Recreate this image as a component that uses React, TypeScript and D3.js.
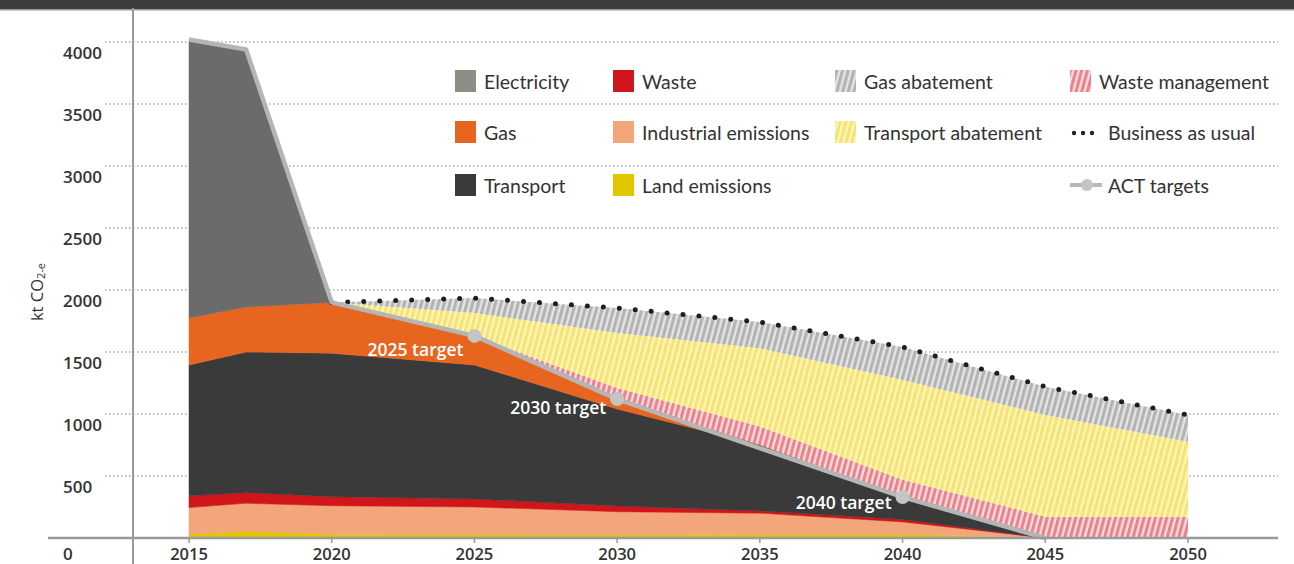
import React from "react";
import * as d3 from "d3";

const years = [2015, 2017, 2020, 2025, 2030, 2035, 2040, 2045, 2050];
const land = [30, 55, 30, 27, 25, 28, 30, 0, 0];
const industrial = [215, 225, 230, 223, 187, 172, 100, 0, 0];
const waste = [95, 85, 73, 65, 46, 18, 20, 0, 0];
const transport = [1055, 1135, 1157, 1080, 782, 532, 180, 0, 0];
const gas = [380, 363, 410, 235, 80, 0, 0, 0, 0];
const electricity = [2245, 2077, 0, 0, 0, 0, 0, 0, 0];
const wasteManagement = [0, 0, 0, 0, 90, 150, 140, 172, 172];
const transportAbatement = [0, 0, 0, 185, 443, 630, 804, 820, 605];
const gasAbatement = [0, 0, 0, 120, 202, 212, 266, 228, 215];

const actYears = [2015, 2017, 2020, 2025, 2030, 2040, 2045];
const actValues = [4020, 3940, 1900, 1630, 1120, 330, 0];
const targetYears = [2025, 2030, 2040];
const targetValues = [1630, 1120, 330];
const targetLabels = ["2025 target", "2030 target", "2040 target"];
const targetLabelDy = [13, 8, 5];

const yTicks = [0, 500, 1000, 1500, 2000, 2500, 3000, 3500, 4000];
const xTicks = [2015, 2020, 2025, 2030, 2035, 2040, 2045, 2050];

const seriesKeys = [
  "land",
  "industrial",
  "waste",
  "transport",
  "gas",
  "electricity",
  "wasteManagement",
  "transportAbatement",
  "gasAbatement",
];
const seriesValues: Record<string, number[]> = {
  land,
  industrial,
  waste,
  transport,
  gas,
  electricity,
  wasteManagement,
  transportAbatement,
  gasAbatement,
};
const hatched = new Set(["wasteManagement", "transportAbatement", "gasAbatement"]);

const fills: Record<string, string> = {
  land: "#e2c600",
  industrial: "#f3a679",
  waste: "#d0161b",
  transport: "#3a3a3a",
  gas: "#e8651f",
  electricity: "#6b6b6b",
  wasteManagement: "url(#hatch-pink)",
  transportAbatement: "url(#hatch-yellow)",
  gasAbatement: "url(#hatch-grey)",
};

const legendRows = [
  [
    { label: "Electricity", kind: "box", fill: "#8d8d86" },
    { label: "Waste", kind: "box", fill: "#d0161b" },
    { label: "Gas abatement", kind: "box", fill: "url(#hatch-grey)" },
    { label: "Waste management", kind: "box", fill: "url(#hatch-pink)" },
  ],
  [
    { label: "Gas", kind: "box", fill: "#e8651f" },
    { label: "Industrial emissions", kind: "box", fill: "#f3a679" },
    { label: "Transport abatement", kind: "box", fill: "url(#hatch-yellow)" },
    { label: "Business as usual", kind: "dots", fill: "#222" },
  ],
  [
    { label: "Transport", kind: "box", fill: "#3a3a3a" },
    { label: "Land emissions", kind: "box", fill: "#e2c600" },
    null,
    { label: "ACT targets", kind: "act", fill: "#b8b8b8" },
  ],
];
const legendColX = [455, 613, 835, 1070];
const legendRowY = [81, 132, 185];

export default function App() {
  const W = 1294;
  const H = 564;
  const x = d3.scaleLinear().domain([2015, 2050]).range([189, 1188]);
  const y = d3.scaleLinear().domain([0, 4000]).range([538, 42]);

  const table = years.map((yr, i) => {
    const row: Record<string, number> = { year: yr };
    seriesKeys.forEach((k) => (row[k] = seriesValues[k][i]));
    return row;
  });
  const stacked = d3.stack<Record<string, number>>().keys(seriesKeys)(table);

  const area = d3
    .area<d3.SeriesPoint<Record<string, number>>>()
    .x((d) => x(d.data.year))
    .y0((d) => y(d[0]))
    .y1((d) => y(d[1]))
    .curve(d3.curveLinear);
  const hatchArea = d3
    .area<d3.SeriesPoint<Record<string, number>>>()
    .defined((d) => d.data.year >= 2020)
    .x((d) => x(d.data.year))
    .y0((d) => y(d[0]))
    .y1((d) => y(d[1]))
    .curve(d3.curveLinear);

  const top = stacked[stacked.length - 1];
  const bauLine = d3
    .line<d3.SeriesPoint<Record<string, number>>>()
    .defined((d) => d.data.year >= 2020)
    .x((d) => x(d.data.year))
    .y((d) => y(d[1]));

  const actLine = d3
    .line<number>()
    .x((_, i) => x(actYears[i]))
    .y((v) => y(v));

  const tickFont = "'Open Sans', 'DejaVu Sans', sans-serif";
  const legendFont = "Lato, 'Open Sans', sans-serif";

  return (
    <svg
      width={W}
      height={H}
      style={{ position: "absolute", left: 0, top: 0, background: "#fff" }}
    >
      <defs>
        <pattern
          id="hatch-grey"
          width="5.5"
          height="10"
          patternUnits="userSpaceOnUse"
          patternTransform="rotate(15)"
        >
          <rect width="5.5" height="10" fill="#e6e6e6" />
          <rect width="3.2" height="10" fill="#b3b3b3" />
        </pattern>
        <pattern
          id="hatch-yellow"
          width="5.5"
          height="10"
          patternUnits="userSpaceOnUse"
          patternTransform="rotate(15)"
        >
          <rect width="5.5" height="10" fill="#fdf5c4" />
          <rect width="3.2" height="10" fill="#f6e46e" />
        </pattern>
        <pattern
          id="hatch-pink"
          width="5.5"
          height="10"
          patternUnits="userSpaceOnUse"
          patternTransform="rotate(15)"
        >
          <rect width="5.5" height="10" fill="#fbe0e2" />
          <rect width="3.2" height="10" fill="#e9838c" />
        </pattern>
      </defs>

      {/* top band */}
      <rect x={0} y={0} width={W} height={9} fill="#3c3c3c" />
      <rect x={0} y={9} width={W} height={1.5} fill="#9a9a9a" />

      {/* gridlines */}
      {yTicks
        .filter((t) => t > 0)
        .map((t) => (
          <line
            key={"g" + t}
            x1={105}
            x2={1278}
            y1={y(t)}
            y2={y(t)}
            stroke="#a8a8a8"
            strokeWidth={1.5}
            strokeDasharray="1.5 2.5"
          />
        ))}

      {/* emission + abatement areas */}
      {stacked.map((s) => (
        <path
          key={s.key}
          d={(hatched.has(s.key) ? hatchArea(s) : area(s)) || ""}
          fill={fills[s.key]}
          stroke={hatched.has(s.key) ? "none" : fills[s.key]}
          strokeWidth={0.5}
        />
      ))}

      {/* business as usual */}
      <path
        d={bauLine(top) || ""}
        fill="none"
        stroke="#1e1e1e"
        strokeWidth={5}
        strokeLinecap="round"
        strokeDasharray="0 16"
      />

      {/* ACT targets */}
      <path
        d={actLine(actValues) || ""}
        fill="none"
        stroke="#b5b5b5"
        strokeWidth={4.5}
        strokeLinejoin="round"
      />
      {targetYears.map((yr, i) => (
        <g key={"t" + yr}>
          <circle cx={x(yr)} cy={y(targetValues[i])} r={7} fill="#c4c4c4" />
          <text
            x={x(yr) - 11}
            y={y(targetValues[i]) + targetLabelDy[i]}
            textAnchor="end"
            dominantBaseline="central"
            fill="#ffffff"
            fontFamily={tickFont}
            fontWeight={600}
            fontSize={17.5}
          >
            {targetLabels[i]}
          </text>
        </g>
      ))}

      {/* axes */}
      <line x1={133} x2={133} y1={8} y2={564} stroke="#9a9a9a" strokeWidth={2} />
      <line x1={48} x2={1278} y1={y(0)} y2={y(0)} stroke="#9a9a9a" strokeWidth={2.5} />
      {xTicks.map((t) => (
        <g key={"x" + t}>
          <line x1={x(t)} x2={x(t)} y1={y(0)} y2={y(0) + 5} stroke="#9a9a9a" strokeWidth={1.5} />
          <text
            x={x(t)}
            y={553}
            textAnchor="middle"
            dominantBaseline="central"
            fontFamily={tickFont}
            fontWeight={600}
            fontSize={16.5}
            fill="#333"
          >
            {t}
          </text>
        </g>
      ))}
      {yTicks.map((t) => (
        <text
          key={"y" + t}
          x={63}
          y={t === 0 ? 553 : y(t) + 10}
          textAnchor="start"
          dominantBaseline="central"
          fontFamily={tickFont}
          fontWeight={600}
          fontSize={17}
          fill="#333"
        >
          {t}
        </text>
      ))}
      <text
        transform="translate(36,292) rotate(-90)"
        textAnchor="middle"
        dominantBaseline="central"
        fontFamily={tickFont}
        fontSize={16.5}
        fill="#333"
      >
        kt CO
        <tspan fontSize={11} dy={4}>
          2-e
        </tspan>
      </text>

      {/* legend */}
      {legendRows.map((row, ri) =>
        row.map((item, ci) => {
          if (!item) return null;
          const lx = legendColX[ci];
          const ly = legendRowY[ri];
          let swatch;
          let tx = lx + 29;
          if (item.kind === "box") {
            swatch = <rect x={lx} y={ly - 11} width={21} height={22} fill={item.fill} />;
          } else if (item.kind === "dots") {
            swatch = (
              <g>
                {[0, 1, 2].map((k) => (
                  <circle key={k} cx={lx + 4 + k * 9} cy={ly + 1} r={2.2} fill={item.fill} />
                ))}
              </g>
            );
            tx = lx + 38;
          } else {
            swatch = (
              <g>
                <line x1={lx} x2={lx + 32} y1={ly} y2={ly} stroke={item.fill} strokeWidth={4} />
                <circle cx={lx + 17} cy={ly} r={6} fill="#c4c4c4" />
              </g>
            );
            tx = lx + 38;
          }
          return (
            <g key={ri + "-" + ci}>
              {swatch}
              <text
                x={tx}
                y={ly}
                dominantBaseline="central"
                fontFamily={legendFont}
                fontSize={19.5}
                fill="#333"
              >
                {item.label}
              </text>
            </g>
          );
        })
      )}
    </svg>
  );
}
